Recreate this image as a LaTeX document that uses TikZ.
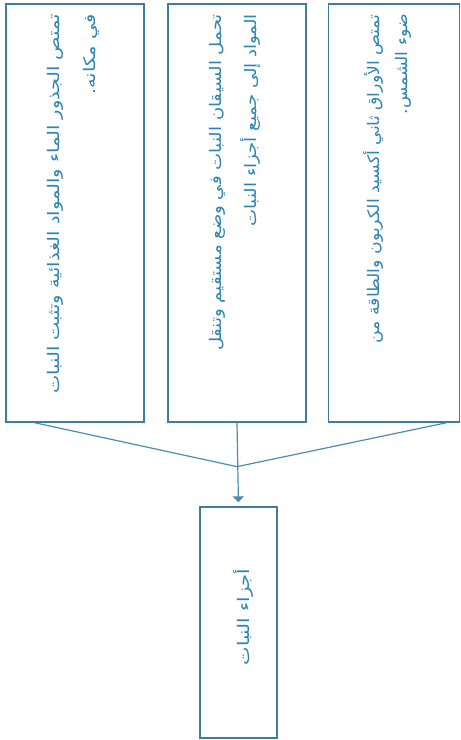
\documentclass[tikz,border=0pt]{standalone}
\usepackage{fontspec}
\usepackage{graphicx}
\newfontfamily\arabicfont[Script=Arabic]{DejaVu Sans}
\TeXXeTstate=1
\usetikzlibrary{arrows.meta,calc}
\definecolor{bordc}{HTML}{3D7E9C}
\definecolor{txtc}{HTML}{2C84B4}
\definecolor{linec}{HTML}{4A8DB0}
\newcommand{\artext}[2]{\scalebox{#1}[1]{\begin{tabular}{@{}r@{}}#2\end{tabular}}}
\newcommand{\arline}[1]{\smash{\beginR #1\endR}}
\begin{document}
\begin{tikzpicture}[x=1pt,y=1pt,
  box/.style={draw=bordc, line width=1.3pt, fill=white, inner sep=0pt, rectangle},
  txt/.style={text=txtc, font=\arabicfont\fontsize{16}{20}\selectfont, inner sep=0pt, rotate=90, anchor=east},
  conn/.style={draw=linec, line width=1.2pt}]
\useasboundingbox (0,0) rectangle (461,-740);
\fill[white] (0,0) rectangle (461,-740);
\node[box, minimum width=138pt, minimum height=418pt] (b1) at (75,-213) {};
\node[box, minimum width=138pt, minimum height=418pt] (b2) at (237,-213) {};
\node[box, minimum width=131pt, minimum height=418pt] (b3) at (394,-213) {};
\node[box, minimum width=77pt, minimum height=231pt] (b4) at (238.5,-622.5) {};
\node[txt] (t1) at (73,-14) {\artext{1.21}{\arline{تمتص الجذور الماء والمواد الغذائية وتثبت النبات}\\[16pt]\arline{في مكانه.}}};
\node[txt] (t2) at (235,-14) {\artext{1.13}{\arline{تحمل السيقان النبات في وضع مستقيم وتنقل}\\[15pt]\arline{المواد إلى جميع أجزاء النبات}}};
\node[txt] (t3) at (389,-14) {\artext{1.08}{\arline{تمتص الأوراق ثاني أكسيد الكربون والطاقة من}\\[8pt]\arline{ضوء الشمس.}}};
\node[txt, anchor=center] (t4) at (245,-617) {\artext{1.22}{\beginR أجزاء النبات\endR}};
\coordinate (c1) at ($(b1.south west)+(29,0)$);
\coordinate (c3) at ($(b3.south west)+(119,0)$);
\coordinate (J) at ($(b2.south)+(0,-44)$);
\draw[conn] (c1) -- (J) -- (c3);
\draw[conn, -{Triangle[width=11pt,length=6pt]}, shorten >=4pt] (b2.south) -- (b4.north);
\end{tikzpicture}
\end{document}
